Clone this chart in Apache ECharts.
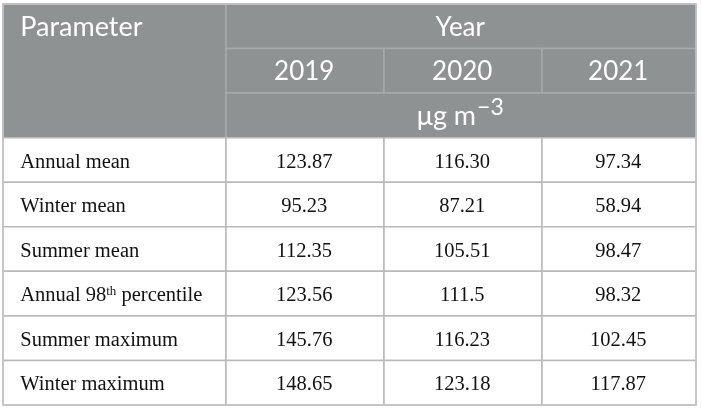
<!DOCTYPE html>
<html>
<head>
<meta charset="utf-8">
<script src="https://cdn.jsdelivr.net/npm/echarts@6/dist/echarts.min.js"></script>
<style>
  html, body { margin: 0; padding: 0; background: #ffffff; }
  #main { width: 702px; height: 410px; }
</style>
</head>
<body>
<div id="main"></div>
<script>
// 表格数据
var paramLabel = 'Parameter';
var groupLabel = 'Year';
var unitLabel = '{base|μg m}{sup|−3}';
var years = ['2019', '2020', '2021'];
var parameters = [
  'Annual mean',
  'Winter mean',
  'Summer mean',
  'Annual 98{sup|th} percentile',
  'Summer maximum',
  'Winter maximum'
];
// 每一年的数值（保持原表的小数位）
var values2019 = ['123.87', '95.23', '112.35', '123.56', '145.76', '148.65'];
var values2020 = ['116.30', '87.21', '105.51', '111.5', '116.23', '123.18'];
var values2021 = ['97.34', '58.94', '98.47', '98.32', '102.45', '117.87'];

(function () {
  var myChart = echarts.init(document.getElementById('main'));
  var yearValues = [values2019, values2020, values2021];
  // 列边界（布局用）
  var colEdges = [0, 223, 381, 539, 693];
  var headRows = ['head', 'year', 'unit'];
  var rowNames = headRows.concat(parameters);

  // 单元格列表 col, row, colspan, rowspan, text, kind
  var cells = [];
  cells.push({ col: 0, row: 0, colspan: 1, rowspan: 3, text: paramLabel, kind: 'headLeft' });
  cells.push({ col: 1, row: 0, colspan: 3, rowspan: 1, text: groupLabel, kind: 'head' });
  years.forEach(function (y, i) {
    cells.push({ col: i + 1, row: 1, colspan: 1, rowspan: 1, text: y, kind: 'head' });
  });
  cells.push({ col: 1, row: 2, colspan: 3, rowspan: 1, text: unitLabel, kind: 'unit' });
  parameters.forEach(function (p, r) {
    cells.push({ col: 0, row: r + 3, colspan: 1, rowspan: 1, text: p, kind: 'label' });
    yearValues.forEach(function (vals, i) {
      cells.push({ col: i + 1, row: r + 3, colspan: 1, rowspan: 1, text: vals[r], kind: 'value' });
    });
  });
  // 外框
  cells.push({ col: 0, row: 0, colspan: 4, rowspan: rowNames.length, text: '', kind: 'frame' });

  var headFont = 'Lato, "Open Sans", sans-serif';
  var bodyFont = '"Liberation Serif", "DejaVu Serif", serif';

  function renderItem(params, api) {
    var c = cells[params.dataIndex];
    var bandH = api.size([0, 1])[1];
    var p0 = api.coord([colEdges[c.col], c.row]);
    var p1 = api.coord([colEdges[c.col + c.colspan], c.row + c.rowspan - 1]);
    var x = p0[0];
    var y = p0[1] - bandH / 2;
    var w = p1[0] - p0[0];
    var h = p1[1] + bandH / 2 - y;

    if (c.kind === 'frame') {
      return {
        type: 'rect',
        shape: { x: x, y: y, width: w, height: h },
        style: { fill: 'none', stroke: '#c3c6c5', lineWidth: 1.5 }
      };
    }

    var isHead = c.kind === 'head' || c.kind === 'headLeft' || c.kind === 'unit';
    var left = c.kind === 'headLeft' || c.kind === 'label';
    var textStyle = {
      text: c.text,
      fill: isHead ? '#ffffff' : '#111111',
      fontFamily: isHead ? headFont : bodyFont,
      fontSize: c.kind === 'headLeft' ? 27 : (isHead ? 26 : 20.5),
      align: left ? 'left' : 'center',
      verticalAlign: 'middle',
      rich: {
        base: { fontFamily: headFont, fontSize: 27, lineHeight: 34, verticalAlign: 'bottom', fill: '#ffffff' },
        sup: isHead
          ? { fontFamily: headFont, fontSize: 23, lineHeight: 34, verticalAlign: 'top', fill: '#ffffff', padding: [0, 0, 4, 1] }
          : { fontFamily: bodyFont, fontSize: 13, lineHeight: 14, verticalAlign: 'top', fill: '#111111' }
      }
    };
    // 文字垂直微调
    var dy = c.kind === 'unit' ? -2 : (isHead ? 2 : 3);
    return {
      type: 'rect',
      shape: { x: x, y: y, width: w, height: h },
      style: {
        fill: isHead ? '#8e9293' : '#ffffff',
        stroke: isHead ? '#a7aaab' : '#b9b9b9',
        lineWidth: 1.5
      },
      textContent: { style: textStyle },
      textConfig: left
        ? { position: [18, bandH / 2 + dy] }
        : { position: [w / 2, h / 2 + dy] }
    };
  }

  var option = {
    animation: false,
    grid: { left: 3, top: 4, right: 6, bottom: 5 },
    xAxis: { type: 'value', min: 0, max: colEdges[colEdges.length - 1], show: false },
    yAxis: { type: 'category', data: rowNames, inverse: true, show: false },
    series: [{
      type: 'custom',
      renderItem: renderItem,
      encode: { x: 0, y: 1 },
      data: cells.map(function (c) { return [colEdges[c.col], c.row]; })
    }]
  };
  myChart.setOption(option);
  window.addEventListener('resize', function () {
    myChart.resize();
  });
})();
</script>
</body>
</html>
